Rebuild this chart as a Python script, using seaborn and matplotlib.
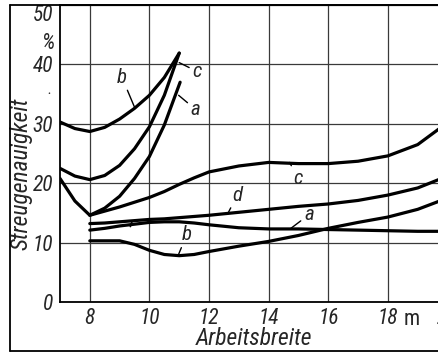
import matplotlib
matplotlib.use("Agg")
import matplotlib.pyplot as plt
from matplotlib.lines import Line2D
from matplotlib import font_manager
from matplotlib.transforms import ScaledTranslation
import seaborn as sns
import pandas as pd

# ---- data ----
upper_x = [7, 7.5, 8, 8.5, 9, 9.5, 10, 10.5, 11.0]
upper_b = [30.3, 29.2, 28.7, 29.4, 30.8, 32.6, 34.8, 37.8, 41.9]
upper_c = [22.5, 21.2, 20.6, 21.3, 23.0, 25.8, 29.5, 34.8, 41.9]
upper_a_x = [7, 7.5, 8, 8.5, 9, 9.5, 10, 10.5, 11.03]
upper_a = [20.8, 17.0, 14.6, 15.8, 17.8, 20.8, 24.5, 29.8, 37.0]

lower_x = [8, 8.5, 9, 9.5, 10, 10.5, 11, 11.5, 12, 13, 14, 15, 16, 17, 18, 19, 20]
lower_c = [14.6, 15.3, 16.0, 16.8, 17.6, 18.6, 19.8, 20.9, 21.9, 22.9, 23.5, 23.3, 23.3, 23.7, 24.6, 26.5, 30.2]
lower_d = [13.2, 13.3, 13.5, 13.7, 13.9, 14.0, 14.2, 14.4, 14.6, 15.1, 15.6, 16.1, 16.5, 17.1, 18.0, 19.2, 21.2]
lower_a = [12.1, 12.4, 12.8, 13.1, 13.4, 13.5, 13.5, 13.3, 13.0, 12.5, 12.3, 12.3, 12.2, 12.1, 12.0, 11.9, 11.9]
lower_b = [10.3, 10.3, 10.3, 9.7, 8.7, 8.0, 7.8, 8.0, 8.5, 9.4, 10.2, 11.2, 12.4, 13.4, 14.3, 15.6, 17.5]

x_ticks = [8, 10, 12, 14, 16, 18, 20]
y_ticks = [0, 10, 20, 30, 40, 50]
x_title = "Arbeitsbreite"
y_title = "Streugenauigkeit"

rows = []
for name, xs, ys in [("ub", upper_x, upper_b), ("uc", upper_x, upper_c), ("ua", upper_a_x, upper_a),
                     ("lc", lower_x, lower_c), ("ld", lower_x, lower_d),
                     ("la", lower_x, lower_a), ("lb", lower_x, lower_b)]:
    for xv, yv in zip(xs, ys):
        rows.append({"curve": name, "x": xv, "y": yv})
df = pd.DataFrame(rows)

sns.set_style("white")
available = {f.name for f in font_manager.fontManager.ttflist}
fam = "DejaVu Sans"
for cand in ["Liberation Sans Narrow", "DejaVu Sans Condensed", "Roboto Condensed", "Open Sans Condensed"]:
    if cand in available:
        fam = cand
        break
plt.rcParams["font.family"] = [fam, "DejaVu Sans"]
plt.rcParams["font.style"] = "italic"
scale = 1.0 if fam != "DejaVu Sans" else 0.85
FS_TICK = 15.5 * scale
FS_LAB = 17 * scale
FS_LET = 15 * scale

fig = plt.figure(figsize=(4.38, 3.53), dpi=100)
W, H = 438.0, 353.0
x0_px, x20_px = 60.0, 447.5
ax = fig.add_axes([x0_px / W, (H - 302) / H, (x20_px - x0_px) / W, (302 - 5) / H])

sns.lineplot(data=df, x="x", y="y", units="curve", estimator=None, sort=False,
             color="black", linewidth=2.3, ax=ax, legend=False)
for ln in ax.lines:
    ln.set_solid_joinstyle("round")
    ln.set_solid_capstyle("round")

ax.set_xlim(7, 20)
ax.set_ylim(0, 50)
ax.set_xticks(x_ticks)
ax.set_yticks(y_ticks)
xlabels = ax.set_xticklabels([str(t) for t in x_ticks], fontsize=FS_TICK, style="italic")
ylabels = ax.set_yticklabels([str(t) for t in y_ticks], fontsize=FS_TICK, style="italic")
ylabels[-1].set_verticalalignment("top")
ylabels[-1].set_transform(ylabels[-1].get_transform() + ScaledTranslation(0, -3 / 100, fig.dpi_scale_trans))
shift = ScaledTranslation(-3 / 100, 0, fig.dpi_scale_trans)
for t in xlabels:
    t.set_transform(t.get_transform() + shift)
ax.tick_params(axis="y", length=0, pad=5)
ax.tick_params(axis="x", length=0, pad=4)

ax.grid(True, color="#3a3a3a", linewidth=0.9)
ax.set_axisbelow(True)
for s in ["left", "bottom", "top"]:
    ax.spines[s].set_color("black")
    ax.spines[s].set_linewidth(1.3)
ax.spines["right"].set_visible(False)

ax.set_xlabel(x_title, fontsize=FS_LAB, style="italic", labelpad=-1)
ax.set_ylabel(y_title, fontsize=FS_LAB, style="italic")
ax.yaxis.set_label_coords(-0.072, 0.43)

# unit marks
ax.text(6.6, 43.6, "%", fontsize=FS_TICK, style="italic", ha="center", va="center", clip_on=False)
ax.text(6.63, 35.0, "•", fontsize=6, ha="center", va="center", clip_on=False)
ax.text(18.8, -3.0, "m", fontsize=FS_TICK, style="normal", ha="center", va="center", clip_on=False)

# curve letters with leader lines
def lab(txt, xy, xytext):
    ax.annotate(txt, xy=xy, xytext=xytext, fontsize=FS_LET, style="italic",
                ha="center", va="center",
                arrowprops=dict(arrowstyle="-", color="black", lw=1.0, shrinkA=0, shrinkB=0))

lab("b", (9.5, 32.8), (9.08, 37.8))
lab("c", (11.0, 40.3), (11.6, 38.8))
lab("a", (10.98, 34.8), (11.55, 32.4))
lab("c", (14.7, 23.5), (15.0, 20.8))
lab("d", (12.62, 14.8), (12.95, 18.0))
lab("a", (14.72, 12.3), (15.35, 14.7))
lab("b", (10.96, 7.8), (11.25, 11.3))
# small tick mark between d and a
ax.annotate("", xy=(9.42, 13.6), xytext=(9.36, 12.7),
            arrowprops=dict(arrowstyle="-", color="black", lw=1.2, shrinkA=0, shrinkB=0))

# outer frame of the scanned figure
fl, fb, ft = 10 / W, 2 / H, (H - 5) / H
fig.add_artist(Line2D([fl, fl], [fb, ft], color="black", lw=1.3, transform=fig.transFigure))
fig.add_artist(Line2D([fl, 1], [fb, fb], color="black", lw=1.3, transform=fig.transFigure))
fig.add_artist(Line2D([fl, 1], [ft, ft], color="black", lw=1.3, transform=fig.transFigure))

fig.savefig("out.png", dpi=100)
